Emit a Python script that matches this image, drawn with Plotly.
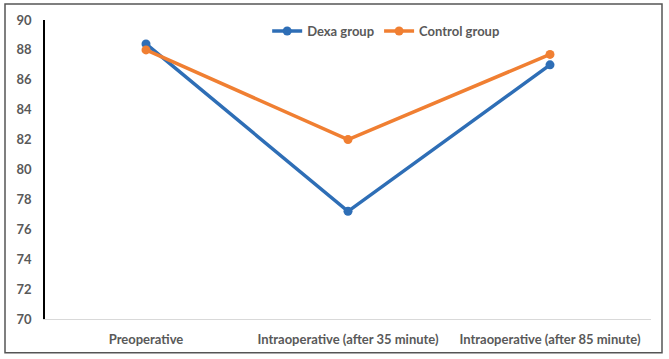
import plotly.graph_objects as go

categories = ["Preoperative", "Intraoperative (after 35 minute)", "Intraoperative (after 85 minute)"]
dexa = [88.4, 77.2, 87.0]
control = [88.0, 82.0, 87.7]
y_ticks = list(range(70, 91, 2))

font_family = "Lato, 'Open Sans', sans-serif"
tick_color = "#595959"

fig = go.Figure()
fig.add_trace(go.Scatter(x=categories, y=dexa, name="Dexa group", mode="lines+markers",
                         line=dict(color="#2E6EB6", width=3.5), marker=dict(size=9, color="#2E6EB6")))
fig.add_trace(go.Scatter(x=categories, y=control, name="Control group", mode="lines+markers",
                         line=dict(color="#F07F32", width=3.5), marker=dict(size=9, color="#F07F32")))

fig.update_layout(
    width=669, height=359,
    margin=dict(l=45, r=18, t=19, b=39),
    paper_bgcolor="white", plot_bgcolor="white",
    font=dict(family=font_family, size=13, color=tick_color, weight="bold"),
    showlegend=True,
    legend=dict(orientation="h", x=0.563, xanchor="center", y=0.963, yanchor="middle",
                font=dict(size=13, color=tick_color, weight="bold"), bgcolor="rgba(0,0,0,0)",
                itemwidth=30, tracegroupgap=0),
    xaxis=dict(type="category", range=[-0.5, 2.5], showgrid=False, showline=True,
               linecolor="#D9D9D9", linewidth=1, ticks="", zeroline=False,
               tickfont=dict(size=13, color=tick_color, weight="bold"), ticklabelstandoff=8),
    yaxis=dict(range=[70, 90], tickvals=y_ticks, showgrid=False, showline=True,
               linecolor="#000000", linewidth=1.5, ticks="", zeroline=False,
               tickfont=dict(size=13, color=tick_color, weight="bold"), ticklabelstandoff=9),
    shapes=[dict(type="rect", xref="paper", yref="paper",
                 x0=-40/606, x1=1 + 11/606, y0=-34/301, y1=1 + 16/301,
                 line=dict(color="#555555", width=1.5), fillcolor="rgba(0,0,0,0)")],
)

fig.write_html("out.html", config={"displayModeBar": False},
               post_script="document.body.style.margin='0';document.body.style.padding='0';")
